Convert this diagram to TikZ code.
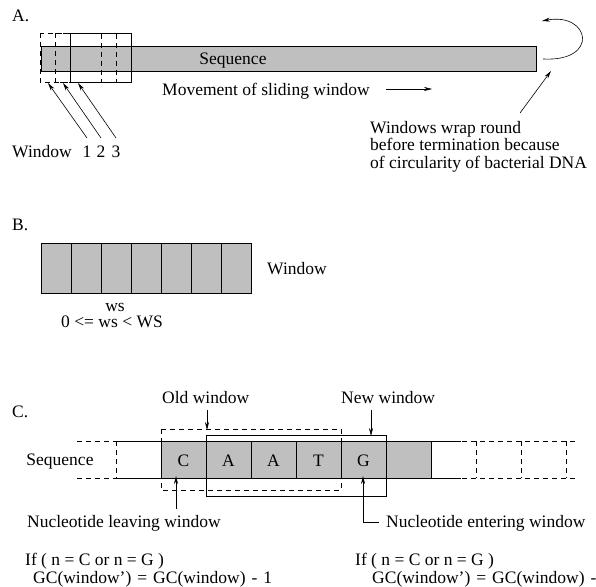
\documentclass[tikz,border=0pt]{standalone}
\usepackage{fontspec}
\setmainfont{Liberation Serif}
\usetikzlibrary{arrows.meta}
\definecolor{seqgray}{RGB}{191,191,191}
\newcommand{\widesp}{\spaceskip=6pt\relax}
\begin{document}
\begin{tikzpicture}[x=1pt,y=-1pt,
  txt/.style={font=\fontsize{17.5}{20}\selectfont, inner sep=0pt, anchor=base west},
  ctxt/.style={font=\fontsize{17.5}{20}\selectfont, inner sep=0pt, anchor=base},
  ln/.style={line width=0.7pt},
  dsh/.style={line width=0.7pt, dash pattern=on 5pt off 4pt},
  arr/.style={line width=0.6pt, -{Stealth[length=8pt,width=4pt]}},
  cellbox/.style={line width=0.7pt, fill=seqgray}]
\useasboundingbox (0,0) rectangle (596,586);

% ---------------- A ----------------
\node[txt] (labA) at (12,22) {A.};
\path[cellbox,draw] (41,46) rectangle (536,71);
\node[ctxt] (seqA) at (233,64) {Sequence};
\draw[dsh] (40,33) rectangle (101,82);
\draw[dsh] (55,33) rectangle (116,82);
\draw[ln] (70,33) rectangle (131,82);
\coordinate (w1t) at (48,83);
\coordinate (w2t) at (63,83);
\coordinate (w3t) at (78,83);
\node[txt] (winA) at (12,157) {Window};
\node[ctxt] (n1) at (87,157) {1};
\node[ctxt] (n2) at (101,157) {2};
\node[ctxt] (n3) at (116,157) {3};
\coordinate (w1s) at (87,138);
\coordinate (w2s) at (101,138);
\coordinate (w3s) at (116,138);
\draw[arr] (w1s) -- (w1t);
\draw[arr] (w2s) -- (w2t);
\draw[arr] (w3s) -- (w3t);
\node[txt] (move) at (162,95) {Movement of sliding window};
\coordinate (mvs) at (386,89);
\coordinate (mve) at (432,89);
\draw[arr] (mvs) -- (mve);
\coordinate (wrs) at (543,59);
\coordinate (wre) at (542,21);
\draw[arr] (wrs) .. controls (600,62) and (590,12) .. (wre);
\node[txt] (wr1) at (370,133) {Windows wrap round};
\node[txt] (wr2) at (370,150) {before termination because};
\node[txt] (wr3) at (370,168) {of circularity of bacterial DNA};
\coordinate (dnas) at (520,113);
\coordinate (dnae) at (551,71);
\draw[arr] (dnas) -- (dnae);

% ---------------- B ----------------
\node[txt] (labB) at (12,230) {B.};
\foreach \i in {0,...,6}{
  \path[cellbox,draw] ({41+30*\i},243) rectangle ({71+30*\i},293);
}
\node[txt] (winB) at (267,274) {Window};
\node[ctxt] (ws) at (115,311) {ws};
\node[txt] (wsr) at (61,327) {0 <= ws < WS};

% ---------------- C ----------------
\node[txt] (labC) at (12,417) {C.};
\node[ctxt] (seqC) at (60,465) {Sequence};
% left extension
\draw[dsh] (77,441) -- (116,441);
\draw[dsh] (77,478) -- (116,478);
\draw[dsh] (116,441) -- (116,478);
\draw[ln] (116,441) -- (161,441);
\draw[ln] (116,478) -- (161,478);
% cells
\foreach \i in {0,...,5}{
  \path[cellbox,draw] ({161+45*\i},441) rectangle ({206+45*\i},478);
}
\node[ctxt] (cC) at (183.5,466) {C};
\node[ctxt] (cA1) at (228.5,466) {A};
\node[ctxt] (cA2) at (273.5,466) {A};
\node[ctxt] (cT) at (318.5,466) {T};
\node[ctxt] (cG) at (363.5,466) {G};
% right extension
\draw[ln] (431,441) -- (461,441);
\draw[ln] (431,478) -- (461,478);
\draw[dsh] (462,441) -- (575,441);
\draw[dsh] (462,478) -- (575,478);
\draw[dsh] (476,441) -- (476,478);
\draw[dsh] (521,441) -- (521,478);
\draw[dsh] (566,441) -- (566,478);
% windows
\draw[dsh] (161,429) rectangle (341,490);
\draw[ln] (206,435) rectangle (386,496);
\node[txt] (oldw) at (162,403) {Old window};
\node[txt] (neww) at (341,403) {New window};
\coordinate (ows) at (207,410);
\coordinate (owe) at (207,430);
\coordinate (nws) at (371,410);
\coordinate (nwe) at (371,436);
\draw[arr] (ows) -- (owe);
\draw[arr] (nws) -- (nwe);
% nucleotide arrows
\node[txt] (leave) at (27,527) {Nucleotide leaving window};
\node[txt] (enter) at (386,527) {Nucleotide entering window};
\coordinate (lvs) at (176,509);
\coordinate (lve) at (176,476);
\draw[arr] (lvs) -- (lve);
\coordinate (ens) at (379,522);
\coordinate (enc) at (363,522);
\coordinate (ene) at (363,476);
\draw[arr] (ens) -- (enc) -- (ene);
% formulas
\node[txt] (if1) at (25,565) {If ( n = C or n = G )};
\node[txt] (gc1) at (33,583) {\widesp GC(window’) = GC(window) - 1};
\node[txt] (if2) at (355,565) {If ( n = C or n = G )};
\node[txt] (gc2) at (372,583) {\widesp GC(window’) = GC(window) -};
\end{tikzpicture}
\end{document}
